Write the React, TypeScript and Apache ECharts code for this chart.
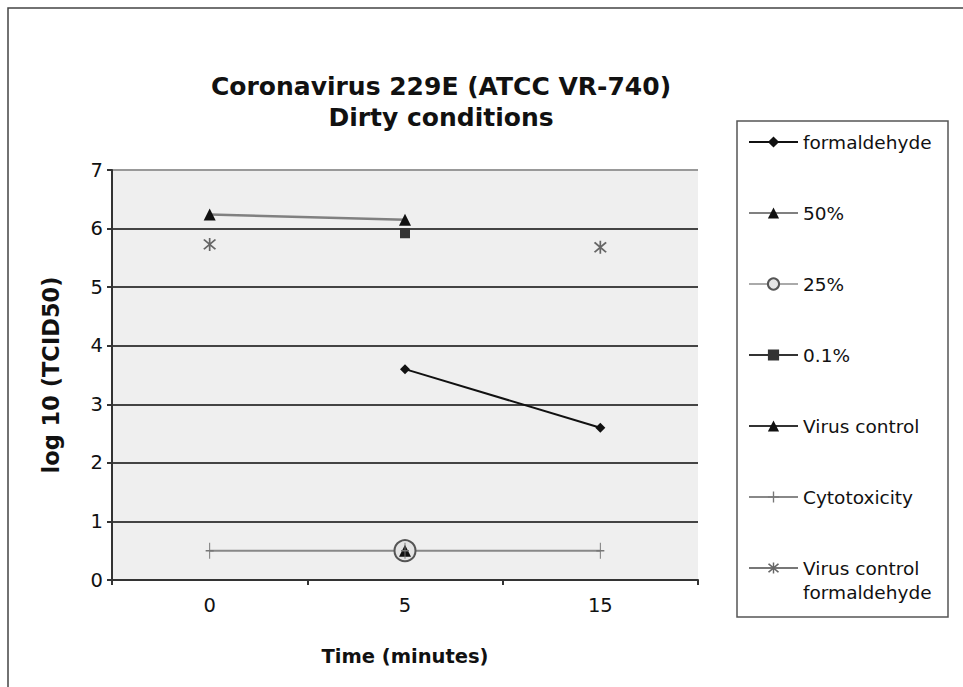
import React, { useEffect, useRef } from "react";
import * as echarts from "echarts";

const categories = ["0", "5", "15"];
const formaldehyde = [null, 3.6, 2.6];
const pct50 = [6.24, 6.15, null];
const pct25 = [null, 0.5, null];
const pct01 = [null, 5.92, null];
const virusControl = [null, 0.5, null];
const cytotoxicity = [0.5, 0.5, 0.5];
const virusControlFormaldehyde = [5.73, null, 5.68];
const titleLines = ["Coronavirus 229E (ATCC VR-740)", "Dirty conditions"];
const seriesNames = [
  "formaldehyde",
  "50%",
  "25%",
  "0.1%",
  "Virus control",
  "Cytotoxicity",
  "Virus control\nformaldehyde",
];

const ASTERISK =
  "path://M4.4 0 L5.6 0 L5.6 10 L4.4 10 Z M0.4 1.6 L1.4 0.8 L9.6 8.4 L8.6 9.2 Z M8.6 0.8 L9.6 1.6 L1.4 9.2 L0.4 8.4 Z";
const PLUS = "path://M4.4 0 L5.6 0 L5.6 10 L4.4 10 Z M0 4.5 L10 4.5 L10 5.5 L0 5.5 Z";

const FONT = "'DejaVu Sans', 'Liberation Sans', Arial, sans-serif";
const TXT = "#111";

export default function App() {
  const ref = useRef<HTMLDivElement>(null);
  useEffect(() => {
    document.body.style.margin = "0";
    const chart = echarts.init(ref.current!, null, { renderer: "svg" });
    const legendText = { fontFamily: FONT, fontSize: 18.5, color: TXT, lineHeight: 24 };
    const option: any = {
      animation: false,
      backgroundColor: "#ffffff",
      textStyle: { fontFamily: FONT },
      title: {
        text: titleLines.join("\n"),
        left: 436,
        top: 66,
        textAlign: "center",
        textStyle: {
          fontFamily: FONT,
          fontSize: 25,
          fontWeight: "bold",
          color: TXT,
          lineHeight: 31,
        },
      },
      grid: {
        left: 112,
        right: 265,
        top: 170,
        bottom: 107,
        show: true,
        backgroundColor: "#efefef",
        borderWidth: 0,
      },
      legend: [
        {
          orient: "vertical",
          left: 748,
          top: 130,
          padding: 0,
          itemWidth: 49,
          itemHeight: 14,
          itemGap: 47,
          data: seriesNames.slice(0, 6),
          textStyle: legendText,
        },
        {
          orient: "vertical",
          left: 748,
          top: 532,
          padding: 0,
          itemWidth: 49,
          itemHeight: 14,
          data: seriesNames.slice(6),
          formatter: (name: string) => "\n" + name,
          textStyle: legendText,
        },
      ],
      xAxis: {
        type: "category",
        data: categories,
        boundaryGap: true,
        name: "Time (minutes)",
        nameLocation: "middle",
        nameGap: 66,
        nameTextStyle: { fontFamily: FONT, fontSize: 19.5, fontWeight: "bold", color: TXT },
        axisLine: { lineStyle: { color: "#333", width: 2 } },
        axisTick: { show: true, length: 5, lineStyle: { color: "#333", width: 2 } },
        axisLabel: { fontFamily: FONT, fontSize: 19.5, color: TXT, margin: 15 },
        splitLine: { show: false },
      },
      yAxis: {
        type: "value",
        min: 0,
        max: 7,
        interval: 1,
        name: "log 10 (TCID50)",
        nameLocation: "middle",
        nameGap: 50,
        nameTextStyle: { fontFamily: FONT, fontSize: 22.5, fontWeight: "bold", color: TXT },
        axisLine: { show: true, lineStyle: { color: "#333", width: 2 } },
        axisTick: { show: true, length: 5, lineStyle: { color: "#333", width: 2 } },
        axisLabel: { fontFamily: FONT, fontSize: 19.5, color: TXT, margin: 9 },
        splitLine: {
          show: true,
          lineStyle: {
            color: ["#444", "#444", "#444", "#444", "#444", "#444", "#444", "#999"],
            width: 2,
          },
        },
      },
      graphic: [
        {
          type: "rect",
          shape: { x: 8, y: 8, width: 1000, height: 720 },
          style: { fill: "none", stroke: "#444", lineWidth: 1.5 },
          silent: true,
          z: -10,
        },
        {
          type: "rect",
          shape: { x: 737, y: 121, width: 211, height: 496 },
          style: { fill: "none", stroke: "#555", lineWidth: 1.5 },
          silent: true,
        },
      ],
      series: [
        {
          name: seriesNames[0],
          type: "line",
          data: formaldehyde,
          symbol: "diamond",
          symbolSize: 10,
          itemStyle: { color: "#111" },
          lineStyle: { color: "#111", width: 2 },
        },
        {
          name: seriesNames[1],
          type: "line",
          data: pct50,
          symbol: "triangle",
          symbolSize: 12,
          itemStyle: { color: "#111" },
          lineStyle: { color: "#808080", width: 2.5 },
        },
        {
          name: seriesNames[2],
          type: "line",
          data: pct25,
          symbol: "circle",
          symbolSize: 21,
          itemStyle: { color: "#e4e4e4", borderColor: "#555", borderWidth: 2 },
          lineStyle: { color: "#aaa", width: 1.5 },
        },
        {
          name: seriesNames[3],
          type: "line",
          data: pct01,
          symbol: "rect",
          symbolSize: 10,
          itemStyle: { color: "#333" },
          lineStyle: { color: "#333", width: 2 },
        },
        {
          name: seriesNames[4],
          type: "line",
          data: virusControl,
          symbol: "triangle",
          symbolSize: 12,
          itemStyle: { color: "#111" },
          lineStyle: { color: "#333", width: 2 },
        },
        {
          name: seriesNames[5],
          type: "line",
          data: cytotoxicity,
          symbol: PLUS,
          symbolSize: [8, 16],
          itemStyle: { color: "#777" },
          lineStyle: { color: "#888", width: 2 },
        },
        {
          name: seriesNames[6],
          type: "line",
          data: virusControlFormaldehyde,
          symbol: ASTERISK,
          symbolSize: 13,
          itemStyle: { color: "#666" },
          lineStyle: { color: "#777", width: 2 },
        },
      ],
    };
    chart.setOption(option);
    return () => chart.dispose();
  }, []);
  return (
    <div
      ref={ref}
      style={{ position: "fixed", left: 0, top: 0, width: 963, height: 687 }}
    />
  );
}
